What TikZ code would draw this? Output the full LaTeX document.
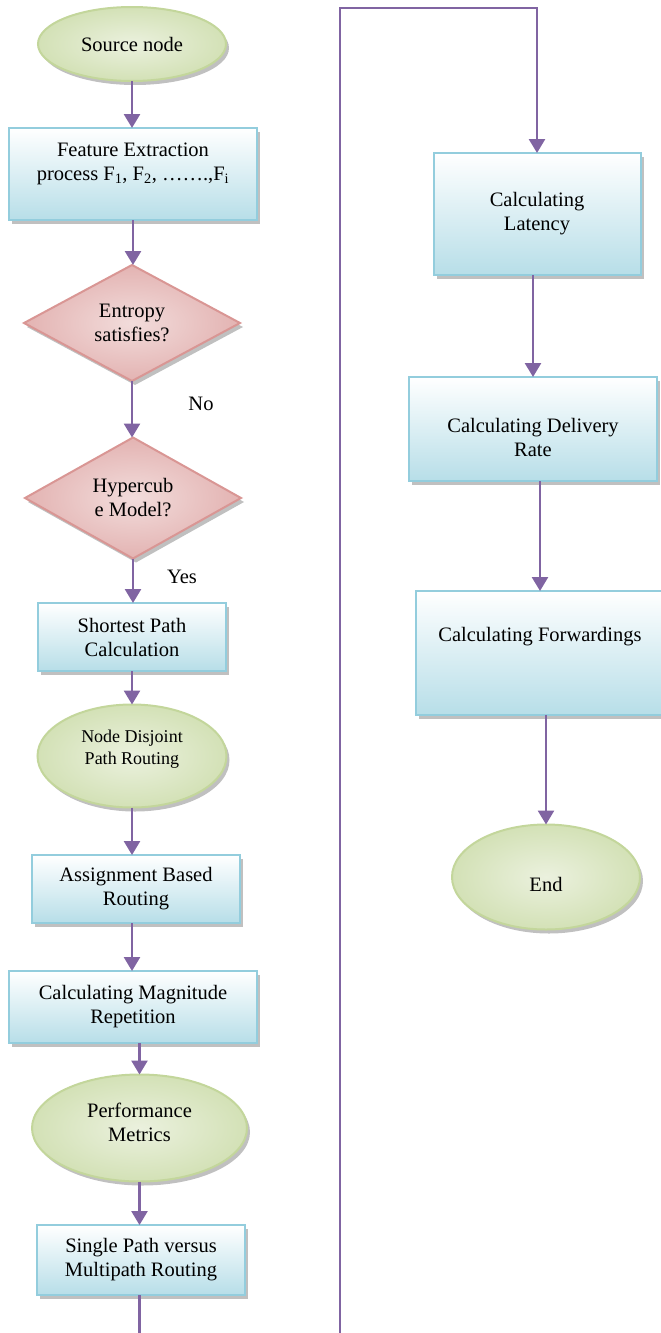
\documentclass[tikz,border=0pt]{standalone}
\usepackage{fontspec}
\setmainfont{Liberation Serif}
\usetikzlibrary{arrows.meta,shapes.geometric,shadows}
\definecolor{arrowc}{HTML}{8064A2}
\definecolor{boxline}{HTML}{93CDDD}
\definecolor{boxfill}{HTML}{B7DEE8}
\definecolor{greenline}{HTML}{C3D69B}
\definecolor{greenin}{HTML}{EBF1DE}
\definecolor{greenout}{HTML}{D3E1B6}
\definecolor{pinkline}{HTML}{D99694}
\definecolor{pinkin}{HTML}{F2DCDB}
\definecolor{pinkout}{HTML}{E3B3B2}
\newcommand\figfont{\fontsize{20.5}{24}\selectfont}
\newcommand\smallfig{\fontsize{18}{22}\selectfont}
\begin{document}
\begin{tikzpicture}[x=1pt,y=-1pt,
  shad/.style={drop shadow={shadow xshift=3pt,shadow yshift=-4pt,fill=black!45,opacity=0.55}},
  procbox/.style={rectangle,draw=boxline,line width=2pt,top color=white,bottom color=boxfill,shad,inner sep=0pt,outer sep=0pt,font=\figfont,align=center},
  term/.style={ellipse,draw=greenline,line width=2pt,inner color=greenin,outer color=greenout,shad,inner sep=0pt,outer sep=0pt,font=\figfont,align=center},
  decision/.style={diamond,draw=pinkline,line width=2pt,inner color=pinkin,outer color=pinkout,shad,inner sep=0pt,outer sep=0pt,font=\figfont,align=center},
  txt/.style={font=\figfont,align=center,inner sep=0pt},
  arr/.style={draw=arrowc,line width=2.6pt,-{Triangle[length=14pt,width=16pt]}}
]
\useasboundingbox (0,0) rectangle (661,1333);

% left column
\node[term, minimum width=188, minimum height=74] (src) at (132,44) {Source node};
\node[procbox, minimum width=248, minimum height=92] (fe) at (133,174) {};
\node[txt] (fet) at (133,164) {Feature Extraction\\process F\textsubscript{1}, F\textsubscript{2}, …….,F\textsubscript{i}};
\node[decision, minimum width=216, minimum height=116] (ent) at (132,323) {Entropy\\satisfies?};
\node[txt] (nolbl) at (201,404) {No};
\node[decision, minimum width=216, minimum height=121] (hyp) at (133,498) {Hypercub\\e Model?};
\node[txt] (yeslbl) at (182,577) {Yes};
\node[procbox, minimum width=188, minimum height=68] (sp) at (132,637) {Shortest Path\\Calculation};
\node[term, minimum width=189, minimum height=103] (nd) at (132,756) {};
\node[txt, font=\smallfig] (ndt) at (132,749) {Node Disjoint\\Path Routing};
\node[procbox, minimum width=208, minimum height=68] (ab) at (136,889) {Assignment Based\\Routing};
\node[procbox, minimum width=248, minimum height=72] (cm) at (133,1007) {Calculating Magnitude\\Repetition};
\node[term, minimum width=215, minimum height=107] (perf) at (139.5,1128) {};
\node[txt] (perft) at (139.5,1122) {Performance\\Metrics};
\node[procbox, minimum width=208, minimum height=70] (spm) at (141,1260) {Single Path versus\\Multipath Routing};

% right column
\node[procbox, minimum width=207, minimum height=122] (lat) at (537,214) {Calculating\\Latency};
\node[procbox, minimum width=248, minimum height=104] (del) at (533,429) {};
\node[txt] (delt) at (533,437) {Calculating Delivery\\Rate};
\node[procbox, minimum width=248, minimum height=124] (fw) at (540,653) {};
\node[txt] (fwt) at (540,637) {Calculating Forwardings};
\node[term, minimum width=188, minimum height=105] (end) at (546,877) {};
\node[txt] (endt) at (546,884) {End};

% connectors
\draw[arr] (src.south) -- (src.south |- fe.north);
\draw[arr] (fe.south) -- (fe.south |- ent.north);
\draw[arr] (ent.south) -- (ent.south |- hyp.north);
\draw[arr] (hyp.south) -- (hyp.south |- sp.north);
\draw[arr] (sp.south) -- (sp.south |- nd.north);
\draw[arr] (nd.south) -- (nd.south |- ab.north);
\draw[arr] (ab.south -| nd.south) -- (nd.south |- cm.north);
\draw[arr] (perf.north |- cm.south) -- (perf.north);
\draw[arr] (perf.south) -- (perf.south |- spm.north);
\coordinate (lb) at (340,1380);
\coordinate (lt) at (340,8);
\draw[arr] (spm.south -| perf.south) |- (lb) -- (lt) -| (lat.north);
\draw[arr] (del.north |- lat.south) -- (del.north);
\draw[arr] (fw.north |- del.south) -- (fw.north);
\draw[arr] (end.north |- fw.south) -- (end.north);
\end{tikzpicture}
\end{document}
